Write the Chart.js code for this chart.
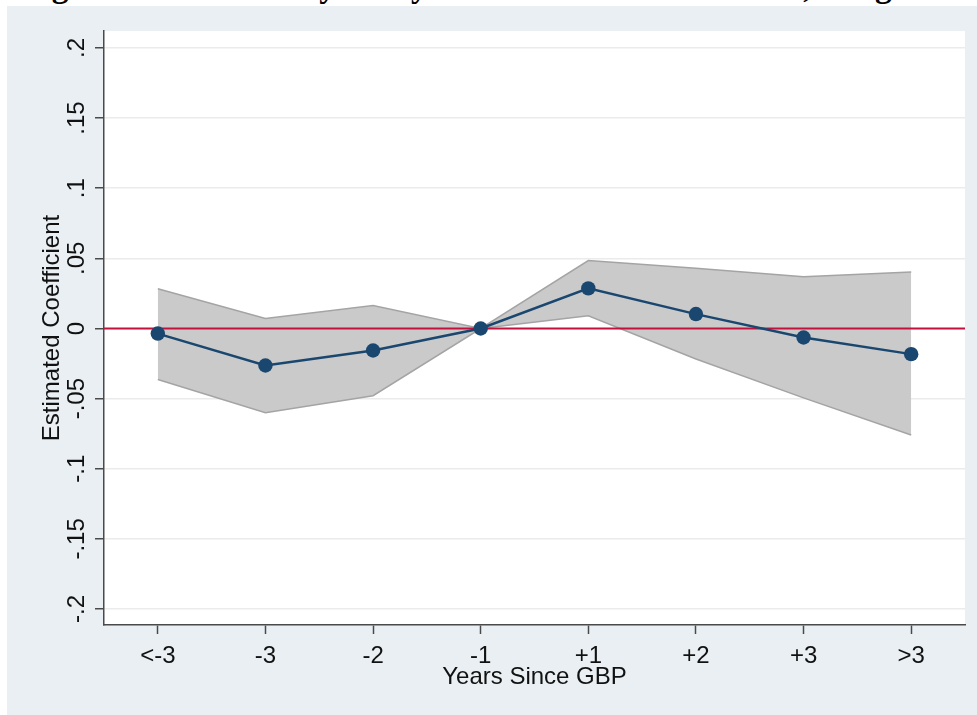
<!DOCTYPE html>
<html>
<head>
<meta charset="utf-8">
<script src="https://cdn.jsdelivr.net/npm/chart.js@4/dist/chart.umd.min.js"></script>
<style>
  html, body { margin: 0; padding: 0; background: #fff; width: 977px; height: 715px; overflow: hidden; position: relative; }
  #heading { position: absolute; left: 22px; top: -31px; font: bold 33.4px 'Liberation Serif', 'Times New Roman', serif; line-height: 33.4px; white-space: nowrap; color: #000; }
  #panel { position: absolute; left: 7px; top: 6px; right: 0; bottom: 0; background: #e9eff2; }
  #wrap { position: absolute; left: 0; top: 0; width: 977px; height: 715px; }
</style>
</head>
<body>
<div id="heading">Figure 3: Event Study Analysis of Gun-Related Crimes, Weighted</div>
<div id="panel"></div>
<div id="wrap"><canvas id="chart"></canvas></div>
<script>
// Event-time bins relative to the policy year
const categories = ['<-3', '-3', '-2', '-1', '+1', '+2', '+3', '>3'];
// Point estimates and 95% confidence bounds
const coefficients = [-0.0036, -0.0264, -0.0157, 0, 0.0286, 0.0103, -0.0064, -0.0183];
const ciUpper = [0.0284, 0.0071, 0.0163, 0, 0.0484, 0.0430, 0.0369, 0.0402];
const ciLower = [-0.0364, -0.0600, -0.0479, 0, 0.0091, -0.0217, -0.0495, -0.0759];
// Y axis ticks
const yTickValues = [-0.2, -0.15, -0.1, -0.05, 0, 0.05, 0.1, 0.15, 0.2];
const referenceValue = 0;

const FONT = "'Liberation Sans', Arial, sans-serif";
const NAVY = '#1a476f';

// Stata-style tick labels: ".05", "-.1", "0"
function stataLabel(v) {
  if (v === 0) return '0';
  return String(v).replace('0.', '.');
}

const plotBackground = {
  id: 'plotBackground',
  beforeDraw(chart) {
    const { ctx, chartArea: a } = chart;
    ctx.save();
    ctx.fillStyle = '#ffffff';
    ctx.fillRect(a.left, a.top, a.right - a.left, a.bottom - a.top);
    ctx.restore();
  }
};

// Horizontal reference line drawn just beneath the coefficient series
const referenceLine = {
  id: 'referenceLine',
  beforeDatasetDraw(chart, args) {
    if (args.index !== 0) return;
    const { ctx, chartArea: a, scales: { y } } = chart;
    const py = y.getPixelForValue(referenceValue);
    ctx.save();
    ctx.strokeStyle = '#c1123e';
    ctx.lineWidth = 1.8;
    ctx.beginPath();
    ctx.moveTo(a.left, py);
    ctx.lineTo(a.right, py);
    ctx.stroke();
    ctx.restore();
  }
};

new Chart(document.getElementById('chart'), {
  type: 'line',
  data: {
    labels: categories,
    datasets: [
      {
        label: 'Coefficient',
        data: coefficients,
        borderColor: NAVY,
        borderWidth: 2.4,
        pointRadius: 7.2,
        pointBackgroundColor: NAVY,
        pointBorderWidth: 0,
        fill: false,
        tension: 0
      },
      {
        label: 'Upper bound',
        data: ciUpper,
        borderColor: '#a4a4a4',
        borderWidth: 1.5,
        pointRadius: 0,
        backgroundColor: '#cacaca',
        fill: '+1',
        tension: 0
      },
      {
        label: 'Lower bound',
        data: ciLower,
        borderColor: '#a4a4a4',
        borderWidth: 1.5,
        pointRadius: 0,
        fill: false,
        tension: 0
      }
    ]
  },
  options: {
    responsive: true,
    maintainAspectRatio: false,
    animation: false,
    layout: { padding: { left: 0, top: 31, right: 12, bottom: 0 } },
    plugins: {
      legend: { display: false },
      tooltip: { enabled: false },
      filler: { drawTime: 'beforeDatasetsDraw' }
    },
    scales: {
      x: {
        type: 'category',
        offset: true,
        afterFit(scale) { scale.height = 90; },
        grid: {
          display: true,
          drawOnChartArea: false,
          drawTicks: true,
          tickLength: 9,
          tickWidth: 1.5,
          tickColor: '#4a4a4a',
          offset: false
        },
        border: { display: true, color: '#4a4a4a', width: 1.5 },
        ticks: {
          color: '#111',
          font: { family: FONT, size: 24 },
          padding: 8,
          maxRotation: 0,
          minRotation: 0,
          autoSkip: false
        },
        title: {
          display: true,
          text: 'Years Since GBP',
          color: '#111',
          font: { family: FONT, size: 24 },
          padding: { top: 0, bottom: 23 }
        }
      },
      y: {
        type: 'linear',
        min: -0.2114,
        max: 0.2121,
        afterFit(scale) { scale.width = 104; },
        afterBuildTicks(scale) { scale.ticks = yTickValues.map(v => ({ value: v })); },
        grid: {
          color: '#ebebeb',
          lineWidth: 1.5,
          drawTicks: true,
          tickLength: 9,
          tickWidth: 1.5,
          tickColor: '#4a4a4a'
        },
        border: { display: true, color: '#4a4a4a', width: 1.5 },
        ticks: {
          color: '#111',
          font: { family: FONT, size: 24 },
          padding: -3,
          minRotation: 90,
          maxRotation: 90,
          crossAlign: 'center',
          callback: (v) => stataLabel(v)
        },
        title: {
          display: true,
          text: 'Estimated Coefficient',
          color: '#111',
          font: { family: FONT, size: 24 },
          padding: { top: 38, bottom: 0 }
        }
      }
    }
  },
  plugins: [plotBackground, referenceLine]
});
</script>
</body>
</html>
